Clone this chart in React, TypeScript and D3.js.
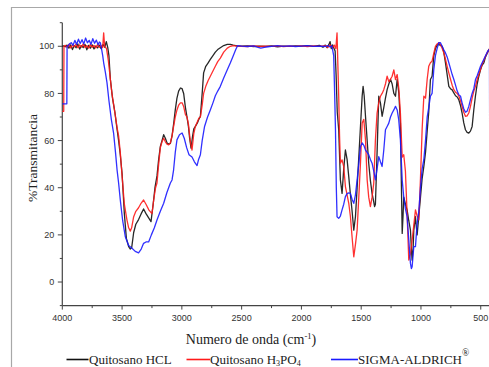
import React, { useEffect, useRef } from "react";
import * as d3 from "d3";

type Pt = [number, number];

// [numero de onda (cm-1), %T]
const hclData: Pt[] = [
  [4000, 100], [3990, 100.2], [3975, 99.8], [3960, 100.5], [3945, 99.2], [3930, 100.6], [3915, 98.6],
  [3900, 100.3], [3885, 99.4], [3870, 101], [3855, 98.8], [3840, 100.2], [3825, 99.5], [3810, 100.8],
  [3795, 98.5], [3780, 100.4], [3765, 99.2], [3750, 100.6], [3735, 98.9], [3720, 100.1], [3705, 99.3],
  [3690, 100.5], [3675, 99], [3660, 100.8], [3645, 99.6], [3632, 102], [3620, 99.5], [3610, 96],
  [3598, 86], [3580, 78], [3560, 72], [3545, 66], [3529, 60], [3515, 54], [3500, 46], [3481, 29],
  [3464, 18.5], [3445, 15], [3431, 14], [3420, 14.5], [3403, 21], [3385, 24.5], [3362, 26.5],
  [3340, 29], [3320, 31], [3300, 29], [3275, 27], [3258, 25.6], [3240, 33], [3225, 40], [3208, 45],
  [3194, 52], [3180, 57.5], [3166, 60], [3152, 62.5], [3138, 61], [3124, 59], [3110, 58.5],
  [3096, 58.8], [3082, 62], [3069, 67], [3055, 73], [3041, 78], [3027, 81], [3012, 82.3], [2998, 82],
  [2985, 80], [2970, 74], [2957, 70], [2945, 66], [2935, 61], [2923, 56.8], [2910, 62], [2900, 65],
  [2887, 66], [2870, 67.5], [2858, 69], [2845, 70.3], [2830, 80], [2818, 88.7], [2800, 91.5],
  [2780, 93], [2762, 94.4], [2740, 96], [2720, 97.5], [2700, 98.6], [2678, 99.4], [2650, 100.3],
  [2620, 100.8], [2594, 100.8], [2570, 100.5], [2538, 100.2], [2500, 100.1], [2450, 100.2],
  [2400, 99.9], [2350, 100.1], [2300, 100], [2250, 100.2], [2200, 99.8], [2150, 100.1], [2100, 100],
  [2050, 100.2], [2000, 100.1], [1950, 100.3], [1900, 100], [1850, 100.4], [1820, 99.6], [1800, 100.5],
  [1785, 99.4], [1770, 100.8], [1760, 102], [1750, 99], [1740, 100.6], [1728, 99.2], [1718, 98],
  [1710, 88], [1700, 72], [1688, 64.6], [1674, 43.3], [1660, 37.6], [1646, 48], [1632, 56], [1618, 52],
  [1604, 44.7], [1590, 37], [1576, 30], [1562, 22], [1548, 27.7], [1534, 40], [1520, 53], [1506, 66],
  [1492, 78.8], [1484, 83], [1475, 79], [1464, 70.3], [1450, 60], [1437, 50.4], [1423, 43],
  [1409, 37.6], [1395, 34], [1388, 32], [1381, 33], [1367, 55], [1353, 78.8], [1339, 76], [1325, 70.3],
  [1311, 74], [1297, 78], [1283, 81.6], [1269, 84], [1255, 86], [1241, 84], [1227, 80], [1213, 78.8],
  [1199, 86], [1185, 80], [1172, 67.4], [1165, 45], [1157, 20.6], [1150, 28], [1144, 36], [1130, 33],
  [1116, 30.6], [1102, 26], [1088, 22], [1080, 14], [1074, 9.3], [1066, 14], [1060, 22], [1046, 27.7],
  [1040, 24], [1032, 20], [1018, 28], [1004, 36], [990, 44], [976, 49], [962, 55], [948, 64],
  [935, 72], [921, 85.9], [907, 87.3], [893, 95.8], [879, 99], [865, 100.5], [851, 100.8],
  [837, 100.4], [823, 100], [809, 97.5], [795, 93], [781, 88], [767, 83], [753, 82], [739, 81.5],
  [725, 80.2], [711, 79], [697, 78.5], [684, 77.4], [670, 75], [656, 71.7], [642, 67.5], [628, 64.6],
  [614, 63.5], [600, 63.2], [586, 64], [572, 66], [558, 73.1], [544, 79], [530, 84], [516, 87.3],
  [502, 90], [488, 92], [474, 93], [460, 95.5], [446, 97], [432, 98.6], [425, 99],
];

const h3po4Data: Pt[] = [
  [4000, 72.4], [3988, 72.4], [3986, 100], [3975, 100.4], [3960, 99.6], [3945, 100.8], [3930, 99.3],
  [3915, 100.5], [3900, 99.8], [3885, 100.9], [3870, 99.4], [3855, 100.6], [3840, 99.7], [3825, 101],
  [3810, 99.5], [3795, 100.3], [3780, 99.2], [3765, 100.8], [3750, 99.6], [3735, 100.4], [3720, 99.3],
  [3705, 100.7], [3690, 99.6], [3675, 100.2], [3662, 99.5], [3654, 105.7], [3646, 100], [3630, 99],
  [3615, 94], [3598, 86], [3585, 80], [3570, 75], [3555, 70], [3540, 65], [3529, 62], [3515, 55],
  [3500, 45], [3481, 33], [3459, 26.3], [3445, 23], [3431, 21.6], [3420, 23], [3403, 27.7],
  [3385, 30], [3362, 31.5], [3340, 33.5], [3320, 34.8], [3300, 33], [3275, 30.5], [3250, 29],
  [3235, 35], [3220, 40], [3208, 42], [3194, 50], [3180, 57], [3166, 59.5], [3152, 61], [3138, 59.5],
  [3124, 58.5], [3110, 58.2], [3096, 59], [3082, 62], [3069, 66], [3055, 70], [3041, 73], [3027, 75],
  [3012, 76], [2998, 76], [2985, 74.5], [2970, 71], [2957, 70], [2945, 67], [2930, 60], [2915, 56],
  [2900, 63], [2887, 66], [2870, 68], [2858, 69.5], [2845, 70], [2830, 75], [2818, 80], [2800, 83],
  [2780, 85.5], [2762, 87.3], [2740, 89.5], [2720, 91.5], [2700, 93.5], [2678, 95], [2650, 97.5],
  [2620, 99.2], [2594, 100], [2570, 100.3], [2540, 100.1], [2500, 100], [2450, 99.9], [2400, 100.2],
  [2350, 99.9], [2300, 100.1], [2250, 100], [2200, 100.2], [2150, 99.9], [2100, 100.1], [2050, 100],
  [2000, 100.2], [1950, 99.9], [1900, 100.2], [1850, 100], [1800, 100.3], [1780, 99.5], [1760, 100.6],
  [1740, 99.4], [1725, 100.5], [1712, 99], [1702, 105.7], [1695, 92], [1688, 78.8], [1681, 62],
  [1674, 50.4], [1660, 51.8], [1646, 49], [1632, 40.5], [1618, 37], [1604, 33.4], [1590, 27.7],
  [1576, 19], [1562, 10.7], [1548, 16], [1534, 22], [1520, 36], [1506, 50.4], [1492, 67.4],
  [1478, 69], [1464, 60.3], [1450, 43.3], [1437, 36], [1423, 32], [1409, 36], [1395, 41.9],
  [1381, 60.3], [1367, 71.7], [1353, 76], [1339, 78.8], [1325, 80], [1311, 81.6], [1297, 84],
  [1283, 87.3], [1269, 85], [1255, 86], [1241, 87.3], [1227, 90], [1213, 85.9], [1199, 88],
  [1185, 82], [1172, 71.7], [1157, 53], [1144, 54], [1130, 47], [1116, 29], [1102, 9.3], [1088, 12],
  [1074, 17.8], [1060, 24], [1046, 30.6], [1032, 28], [1018, 26.3], [1004, 44], [990, 65],
  [976, 78.8], [962, 78], [948, 86], [935, 91.5], [921, 93], [907, 93.7], [893, 97], [879, 100],
  [865, 101], [851, 101.5], [837, 100.8], [823, 99.2], [809, 97.2], [795, 94.5], [781, 91.5],
  [767, 88.7], [753, 86], [739, 83.5], [725, 81.6], [711, 80.5], [697, 80], [684, 79], [670, 77],
  [656, 74.5], [642, 72], [628, 70.3], [614, 70.5], [600, 71.7], [586, 74.5], [572, 78], [558, 81],
  [544, 83], [530, 86], [516, 88], [502, 90.1], [488, 92.5], [474, 94], [460, 95.8], [446, 97.2],
  [432, 98.6], [425, 99],
];

const sigmaData: Pt[] = [
  [4000, 75.6], [3962, 75.6], [3960, 100], [3950, 100.3], [3940, 101], [3925, 101.5],
  [3910, 100.4], [3895, 102.5], [3880, 100.8], [3865, 103], [3850, 101.2], [3835, 102.8], [3820, 101],
  [3805, 103.5], [3790, 101.5], [3775, 102.5], [3760, 100.8], [3745, 103.2], [3730, 101.3],
  [3715, 102.6], [3700, 100.6], [3690, 101.8], [3682, 101.5], [3672, 99], [3662, 96], [3654, 93],
  [3640, 89], [3626, 84.5], [3610, 77], [3590, 69], [3571, 63.2], [3555, 55], [3542, 47.6], [3529, 42],
  [3515, 34.8], [3495, 26], [3473, 19.2], [3445, 15.5], [3417, 14.3], [3390, 13], [3362, 12.4],
  [3340, 14], [3320, 16.4], [3300, 17], [3278, 17], [3255, 20], [3230, 23], [3208, 26.3], [3180, 30],
  [3152, 33.4], [3125, 38], [3096, 42], [3082, 43.3], [3069, 47.6], [3055, 55], [3041, 60.3],
  [3020, 62.5], [2998, 63.2], [2980, 61], [2960, 57], [2940, 54], [2915, 53], [2895, 51], [2873, 49.4],
  [2860, 52], [2845, 54], [2830, 60], [2810, 66], [2785, 70], [2762, 73], [2740, 76], [2720, 79],
  [2700, 81], [2678, 83], [2650, 86.5], [2620, 90], [2594, 93], [2570, 96], [2550, 98.5],
  [2533, 100.3], [2500, 100.1], [2450, 99.9], [2400, 100.2], [2370, 99.6], [2340, 99.2], [2310, 99.5],
  [2280, 99.8], [2250, 100], [2200, 100.3], [2150, 100], [2100, 100.2], [2050, 99.9], [2000, 100.1],
  [1950, 100.3], [1900, 100], [1850, 100.1], [1800, 99.9], [1780, 100.3], [1760, 99.7], [1745, 100.2],
  [1730, 96], [1722, 80], [1715, 64.6], [1708, 40], [1702, 27.7], [1688, 27], [1674, 28], [1660, 30.6],
  [1646, 33], [1632, 36.2], [1618, 37.5], [1604, 37.8], [1590, 37.6], [1576, 35], [1562, 33.4],
  [1548, 37], [1534, 43.3], [1520, 50], [1506, 57.5], [1492, 59], [1478, 58], [1464, 56], [1450, 55],
  [1437, 54], [1423, 52], [1409, 50.4], [1395, 47], [1381, 43.3], [1367, 48], [1353, 53.2], [1339, 51],
  [1325, 49], [1311, 56], [1297, 64.6], [1283, 66], [1269, 67.4], [1255, 70], [1241, 71.7], [1227, 73],
  [1213, 74.5], [1199, 73], [1186, 68.9], [1172, 60.3], [1157, 43.3], [1144, 36], [1130, 31],
  [1116, 27.7], [1102, 18], [1088, 7.9], [1080, 5.7], [1074, 6.5], [1060, 15], [1046, 15], [1032, 25],
  [1018, 30], [1004, 40], [990, 48], [976, 52], [962, 60], [948, 70], [935, 74], [921, 78.8], [907, 80],
  [893, 90], [879, 96], [865, 99], [851, 101.5], [837, 101.5], [823, 100], [809, 98.5], [795, 97.2],
  [781, 95.5], [767, 93], [753, 90.5], [739, 88], [725, 85.9], [711, 83.5], [697, 81], [684, 79.5],
  [669, 78.8], [656, 76], [642, 73.5], [628, 72], [614, 72.5], [600, 74.5], [586, 77.4], [572, 80],
  [558, 82], [544, 85.9], [530, 87.5], [516, 89.5], [502, 91.5], [488, 93], [474, 94.5], [460, 96],
  [446, 97.5], [432, 98.6], [427, 98.6], [425, 57],
];

const xMajorTicks = [4000, 3500, 3000, 2500, 2000, 1500, 1000, 500];
const yMajorTicks = [0, 20, 40, 60, 80, 100];

const series = [
  { data: hclData, color: "#111111" },
  { data: h3po4Data, color: "#ff1a1a" },
  { data: sigmaData, color: "#1a1aff" },
];

const App = () => {
  const svgRef = useRef<SVGSVGElement>(null);

  useEffect(() => {
    const svg = d3.select(svgRef.current);
    svg.selectAll("*").remove();

    const width = 489;
    const height = 367;
    svg.attr("width", width).attr("height", height);

    const x = d3.scaleLinear().domain([4000, 400]).range([62.3, 492.7]);
    const y = d3.scaleLinear().domain([-10, 110]).range([305.6, 22.7]);

    // outer frame
    svg.append("path")
      .attr("d", "M11.5,368 L11.5,7.5 L490,7.5")
      .attr("fill", "none")
      .attr("stroke", "#a8a8a8")
      .attr("stroke-width", 1.2);

    const axisColor = "#444";
    const tickFont = "Liberation Sans, Arial, sans-serif";

    // x axis
    const gx = svg.append("g").attr("transform", `translate(0,${y(-10)})`);
    gx.append("line").attr("x1", x(4000)).attr("x2", 490).attr("stroke", axisColor).attr("stroke-width", 1.2);
    const xMinor = d3.range(3750, 400, -500);
    gx.selectAll(".xmaj").data(xMajorTicks).enter().append("line")
      .attr("x1", (d) => x(d)).attr("x2", (d) => x(d)).attr("y1", 0).attr("y2", 4)
      .attr("stroke", axisColor);
    gx.selectAll(".xmin").data(xMinor).enter().append("line")
      .attr("x1", (d) => x(d)).attr("x2", (d) => x(d)).attr("y1", 0).attr("y2", 2.5)
      .attr("stroke", axisColor);
    gx.selectAll(".xlab").data(xMajorTicks).enter().append("text")
      .attr("x", (d) => x(d)).attr("y", 15.5)
      .attr("text-anchor", "middle")
      .attr("font-family", tickFont).attr("font-size", 9).attr("fill", "#333")
      .text((d) => d);

    // y axis
    const gy = svg.append("g").attr("transform", `translate(${x(4000)},0)`);
    gy.append("line").attr("y1", y(-10)).attr("y2", y(110)).attr("stroke", axisColor).attr("stroke-width", 1.2);
    const yMinor = [-10, 10, 30, 50, 70, 90, 110];
    gy.selectAll(".ymaj").data(yMajorTicks).enter().append("line")
      .attr("y1", (d) => y(d)).attr("y2", (d) => y(d)).attr("x1", 0).attr("x2", -4.5)
      .attr("stroke", axisColor);
    gy.selectAll(".ymin").data(yMinor).enter().append("line")
      .attr("y1", (d) => y(d)).attr("y2", (d) => y(d)).attr("x1", 0).attr("x2", -2.5)
      .attr("stroke", axisColor);
    gy.selectAll(".ylab").data(yMajorTicks).enter().append("text")
      .attr("x", -8).attr("y", (d) => y(d) + 3.2)
      .attr("text-anchor", "end")
      .attr("font-family", tickFont).attr("font-size", 9).attr("fill", "#333")
      .text((d) => d);

    // spectra
    const line = d3.line<Pt>().x((d) => x(d[0])).y((d) => y(d[1]));
    series.forEach((s) => {
      svg.append("path")
        .datum(s.data)
        .attr("d", line)
        .attr("fill", "none")
        .attr("stroke", s.color)
        .attr("stroke-width", 1.3)
        .attr("stroke-linejoin", "round")
        .attr("opacity", 0.9);
    });

    const serif = "Liberation Serif, DejaVu Serif, serif";

    // axis titles
    const xt = svg.append("text")
      .attr("x", 251).attr("y", 344)
      .attr("text-anchor", "middle")
      .attr("font-family", serif).attr("font-size", 14).attr("fill", "#222");
    xt.append("tspan").text("Numero de onda (cm");
    xt.append("tspan").attr("dy", -5.5).attr("font-size", 8.5).text("-1");
    xt.append("tspan").attr("dy", 5.5).text(")");

    svg.append("text")
      .attr("transform", `translate(37,158) rotate(-90)`)
      .attr("text-anchor", "middle")
      .attr("font-family", serif).attr("font-size", 13.5).attr("fill", "#222")
      .text("%Transmitancia");

    // legend
    const ly = 359.5;
    const legend = svg.append("g").attr("font-family", serif).attr("font-size", 13).attr("fill", "#222");
    legend.append("line").attr("x1", 66.5).attr("x2", 88.5).attr("y1", ly).attr("y2", ly)
      .attr("stroke", "#111").attr("stroke-width", 1.6);
    legend.append("text").attr("x", 89).attr("y", ly + 4.3).text("Quitosano HCL");

    legend.append("line").attr("x1", 186.5).attr("x2", 210).attr("y1", ly).attr("y2", ly)
      .attr("stroke", "#ff1a1a").attr("stroke-width", 1.6);
    const t2 = legend.append("text").attr("x", 210).attr("y", ly + 4.3);
    t2.append("tspan").text("Quitosano H");
    t2.append("tspan").attr("dy", 1.8).attr("font-size", 8).text("3");
    t2.append("tspan").attr("dy", -1.8).text("PO");
    t2.append("tspan").attr("dy", 1.8).attr("font-size", 8).text("4");

    legend.append("line").attr("x1", 331).attr("x2", 358).attr("y1", ly).attr("y2", ly)
      .attr("stroke", "#1a1aff").attr("stroke-width", 1.6);
    const t3 = legend.append("text").attr("x", 358).attr("y", ly + 4.3);
    t3.append("tspan").text("SIGMA-ALDRICH");
    t3.append("tspan").attr("dy", -7.5).attr("font-size", 9.5).text("®");
  }, []);

  return (
    <svg
      ref={svgRef}
      style={{ position: "absolute", left: 0, top: 0, background: "#fff" }}
    ></svg>
  );
};

export default App;
